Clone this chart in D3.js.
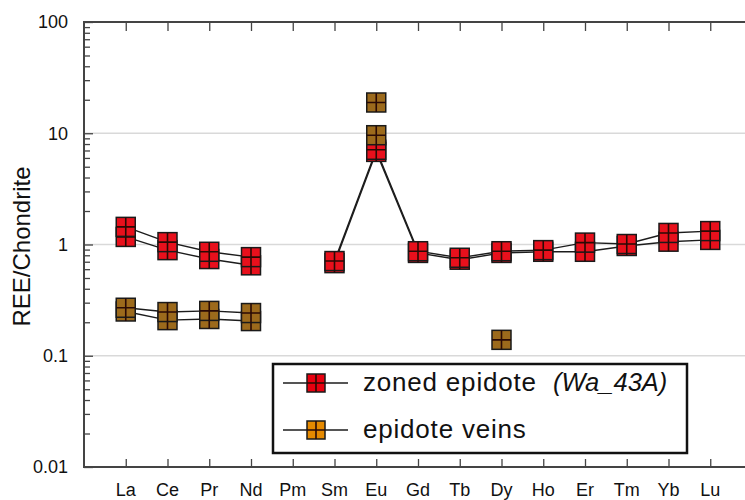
<!DOCTYPE html>
<html>
<head>
<meta charset="utf-8">
<script src="https://cdn.jsdelivr.net/npm/d3@7"></script>
<style>
  html, body { margin: 0; padding: 0; background: #fff; }
  svg { display: block; font-family: "Liberation Sans", Arial, Helvetica, sans-serif; }
</style>
</head>
<body>
<svg id="chart" width="745" height="500"></svg>
<script>
// Rare earth elements, chondrite-normalised
const elements = ["La","Ce","Pr","Nd","Pm","Sm","Eu","Gd","Tb","Dy","Ho","Er","Tm","Yb","Lu"];

// zoned epidote (Wa_43A), two analyses
const zonedA = [1.44, 1.05, 0.86, 0.77, null, 0.71, 7.1, 0.87, 0.76, 0.87, 0.89, 1.04, 1.01, 1.27, 1.32];
const zonedB = [1.17, 0.89, 0.74, 0.65, null, 0.68, 6.8, 0.84, 0.73, 0.84, 0.86, 0.86, 0.97, 1.06, 1.10];

// epidote veins, two analyses
const veinsA = [0.27, 0.247, 0.253, 0.242, null, null, 18.9, null, null, null,  null, null, null, null, null];
const veinsB = [0.25, 0.209, 0.214, 0.205, null, null, 9.6,  null, null, 0.139, null, null, null, null, null];

const yTicks = [0.01, 0.1, 1, 10, 100];
const yTickLabels = ["0.01", "0.1", "1", "10", "100"];
const legendLabels = ["zoned epidote", "epidote veins"];
const legendNote = "(Wa_43A)";
const yTitle = "REE/Chondrite";

const svg = d3.select("#chart");

const plotLeft = 84, plotRight = 752, plotTop = 22, plotBottom = 467;

const x = d3.scaleLinear().domain([-1, elements.length]).range([plotLeft, plotRight]);
const y = d3.scaleLog().domain([0.01, 100]).range([plotBottom, plotTop]);

const redFill = "#e8101c", brownFill = "#9c6a1c";
const legendRed = "#e8000f", legendOrange = "#e68a00";

// horizontal gridlines at the inner decades
svg.append("g")
  .selectAll("line")
  .data([0.1, 1, 10])
  .join("line")
  .attr("x1", plotLeft).attr("x2", 745)
  .attr("y1", d => y(d)).attr("y2", d => y(d))
  .attr("stroke", "#d9d9d9").attr("stroke-width", 1.5);

// minor log ticks, inward on the left axis
const minor = [];
for (let e = -2; e < 2; e++) for (let m = 2; m <= 9; m++) minor.push(m * Math.pow(10, e));

const yAxisMinor = d3.axisRight(y).tickValues(minor).tickSize(6).tickFormat("");
svg.append("g").attr("transform", `translate(${plotLeft},0)`).call(yAxisMinor)
  .call(g => g.select(".domain").remove())
  .selectAll("line").attr("stroke", "#444").attr("stroke-width", 1.3);

const yAxisMajor = d3.axisRight(y).tickValues(yTicks).tickSize(9).tickFormat("");
svg.append("g").attr("transform", `translate(${plotLeft},0)`).call(yAxisMajor)
  .call(g => g.select(".domain").remove())
  .selectAll("line").attr("stroke", "#444").attr("stroke-width", 1.3);

// y tick labels
svg.append("g")
  .selectAll("text")
  .data(yTicks)
  .join("text")
  .attr("x", 68).attr("y", d => y(d))
  .attr("dy", "0.36em")
  .attr("text-anchor", "end")
  .attr("font-size", 18)
  .attr("fill", "#111")
  .text((d, i) => yTickLabels[i]);

// x ticks: bottom pointing up, top pointing down
const idx = d3.range(elements.length);
const xBottom = d3.axisTop(x).tickValues(idx).tickSize(8).tickFormat("");
svg.append("g").attr("transform", `translate(0,${plotBottom})`).call(xBottom)
  .call(g => g.select(".domain").remove())
  .selectAll("line").attr("stroke", "#444").attr("stroke-width", 1.3);
const xTop = d3.axisBottom(x).tickValues(idx).tickSize(9).tickFormat("");
svg.append("g").attr("transform", `translate(0,${plotTop})`).call(xTop)
  .call(g => g.select(".domain").remove())
  .selectAll("line").attr("stroke", "#444").attr("stroke-width", 1.3);

// x labels
svg.append("g")
  .selectAll("text")
  .data(elements)
  .join("text")
  .attr("x", (d, i) => x(i)).attr("y", 496)
  .attr("text-anchor", "middle")
  .attr("font-size", 18)
  .attr("fill", "#111")
  .text(d => d);

// frame
svg.append("path")
  .attr("d", `M745,${plotTop}H${plotLeft}V${plotBottom}H745`)
  .attr("fill", "none").attr("stroke", "#444").attr("stroke-width", 2);

// y title
svg.append("text")
  .attr("transform", `translate(30,${(plotTop + plotBottom) / 2 + 2}) rotate(-90)`)
  .attr("text-anchor", "middle")
  .attr("font-size", 24)
  .attr("fill", "#111")
  .text(yTitle);

// series lines
const line = d3.line()
  .defined(d => d != null)
  .x((d, i) => x(i))
  .y(d => y(d));

function drawLine(values) {
  svg.append("path")
    .attr("d", line(values))
    .attr("fill", "none")
    .attr("stroke", "#1c1c1c")
    .attr("stroke-width", 1.4);
}

// square marker with cross
const S = 19;
function marker(g, cx, cy, fill, size) {
  const h = size / 2;
  g.append("rect")
    .attr("x", cx - h).attr("y", cy - h)
    .attr("width", size).attr("height", size)
    .attr("fill", fill).attr("stroke", "#1a1a1a").attr("stroke-width", 1.5);
  g.append("path")
    .attr("d", `M${cx},${cy - h}V${cy + h}M${cx - h},${cy}H${cx + h}`)
    .attr("stroke", "#2a0a05").attr("stroke-width", 1.6);
}

function drawMarkers(values, fill) {
  const g = svg.append("g");
  values.forEach((v, i) => {
    if (v != null) marker(g, x(i), y(v), fill, S);
  });
}

[zonedA, zonedB].forEach(drawLine);
[veinsA, veinsB].forEach(drawLine);
drawMarkers(zonedB, redFill);
drawMarkers(zonedA, redFill);
drawMarkers(veinsB, brownFill);
drawMarkers(veinsA, brownFill);

// legend
const lg = svg.append("g");
lg.append("rect")
  .attr("x", 273).attr("y", 364).attr("width", 414).attr("height", 89)
  .attr("fill", "#fff").attr("stroke", "#111").attr("stroke-width", 2.5);

const legendRows = [
  { label: legendLabels[0], fill: legendRed, cy: 383 },
  { label: legendLabels[1], fill: legendOrange, cy: 430 }
];
legendRows.forEach(r => {
  lg.append("line")
    .attr("x1", 283).attr("x2", 348)
    .attr("y1", r.cy).attr("y2", r.cy)
    .attr("stroke", "#1c1c1c").attr("stroke-width", 1.4);
  marker(lg, 316, r.cy, r.fill, 18);
  lg.append("text")
    .attr("x", 363).attr("y", r.cy + 8)
    .attr("font-size", 26)
    .attr("letter-spacing", 0.8)
    .attr("fill", "#111")
    .text(r.label);
});
lg.append("text")
  .attr("x", 553).attr("y", 391)
  .attr("font-size", 25.5)
  .attr("font-style", "italic")
  .attr("fill", "#111")
  .text(legendNote);
</script>
</body>
</html>
